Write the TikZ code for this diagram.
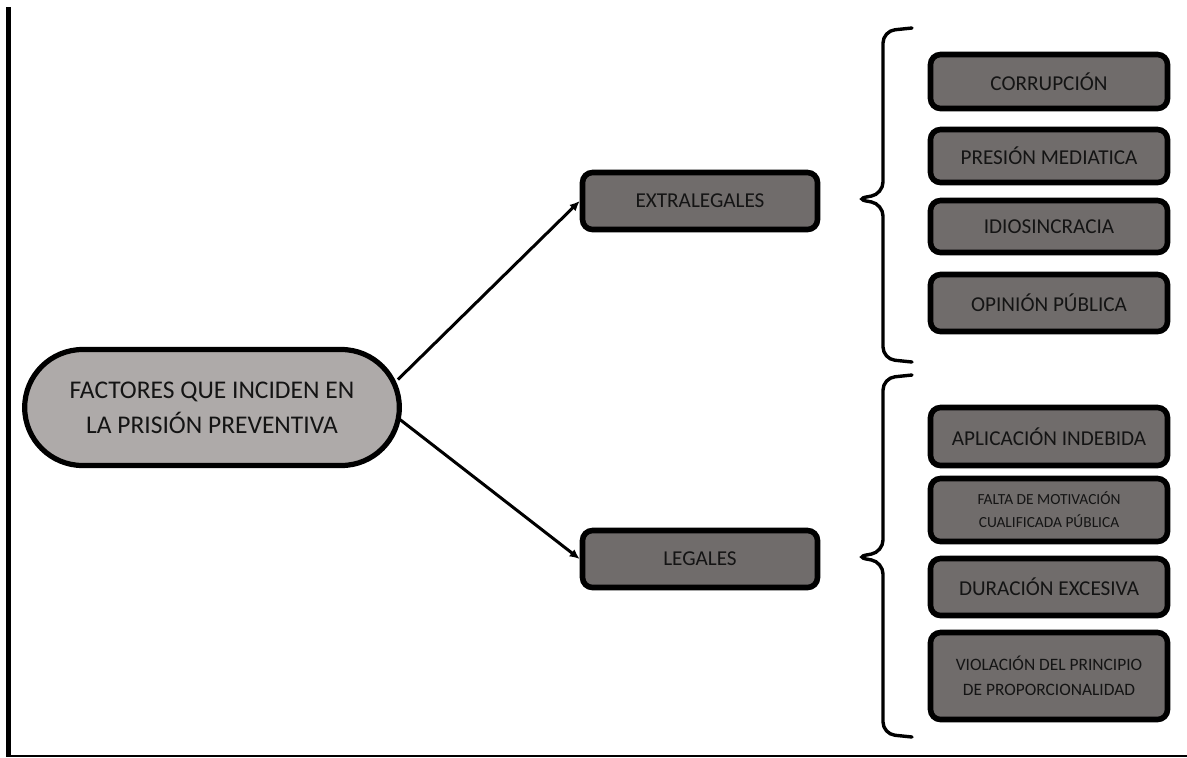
\documentclass[tikz,border=0pt]{standalone}
\usepackage{fontspec}
\setmainfont{Carlito}
\usetikzlibrary{arrows.meta,shapes.misc}
\definecolor{ovalgray}{RGB}{174,170,169}
\definecolor{boxgray}{RGB}{112,108,107}
\definecolor{ink}{RGB}{20,20,20}
\tikzset{
  oval/.style={rounded rectangle, draw, line width=2.6pt, fill=ovalgray, text=ink,
    minimum width=194pt, minimum height=58pt, align=center,
    font=\fontsize{12.75}{17.5}\selectfont},
  catbox/.style={rectangle, rounded corners=5pt, draw, line width=2.8pt, fill=boxgray,
    text=ink, minimum width=117.5pt, minimum height=28.5pt, align=center,
    font=\fontsize{10.6}{13}\selectfont},
  itembox/.style={catbox, minimum width=118.5pt},
  link/.style={line width=1.5pt, -{Latex[length=5pt,width=4.5pt]}},
  bracket/.style={line width=1.7pt, rounded corners=6pt, line cap=round}
}
\begin{document}
\begin{tikzpicture}[x=0.5pt, y=-0.5pt]
      \useasboundingbox (0, 0) rectangle (1187, 757);
      % frame
      \draw[line width=2.5pt] (8.5, 7) -- (8.5, 757);
      \draw[line width=1pt] (10, 756) -- (1187, 756);
      % root and the two groups
      \node[oval] (factores) at (212, 407.5) {FACTORES QUE INCIDEN EN\\LA PRISIÓN PREVENTIVA};
      \node[catbox] (extra) at (700, 201) {EXTRALEGALES};
      \node[catbox] (legal) at (700, 559) {LEGALES};
      \draw[link] ([xshift=-2pt, yshift=14pt]factores.east) -- (extra.west);
      \draw[link] ([xshift=-1pt, yshift=-6pt]factores.east) -- (legal.west);
      % braces
      \draw[bracket] (912, 28) -- (883, 31) -- (883, 194) -- (855, 199)
                     -- (883, 204) -- (883, 359) -- (912, 362);
      \draw[bracket] (912, 375) -- (883, 378) -- (883, 552) -- (855, 557)
                     -- (883, 562) -- (883, 734) -- (912, 737);
      % extralegal factors
      \node[itembox, minimum height=27pt] (corr) at (1049, 81.5) {CORRUPCIÓN};
      \node[itembox, minimum height=26.5pt] (pres) at (1049, 156) {PRESIÓN MEDIATICA};
      \node[itembox, minimum height=26pt] (idio) at (1049, 226.5) {IDIOSINCRACIA};
      \node[itembox, minimum height=28.5pt] (opin) at (1049, 303) {OPINIÓN PÚBLICA};
      % legal factors
      \node[itembox, minimum height=29pt] (apli) at (1049, 436.5) {APLICACIÓN INDEBIDA};
      \node[itembox, minimum height=31.5pt, font=\fontsize{7.7}{11.5}\selectfont] (falta) at (1049, 510)
            {FALTA DE MOTIVACIÓN\\CUALIFICADA PÚBLICA};
      \node[itembox, minimum height=28.5pt] (dura) at (1049, 587) {DURACIÓN EXCESIVA};
      \node[itembox, minimum height=43.5pt, font=\fontsize{8.7}{12.5}\selectfont] (viol) at (1049, 676)
            {VIOLACIÓN DEL PRINCIPIO\\DE PROPORCIONALIDAD};
\end{tikzpicture}
\end{document}
